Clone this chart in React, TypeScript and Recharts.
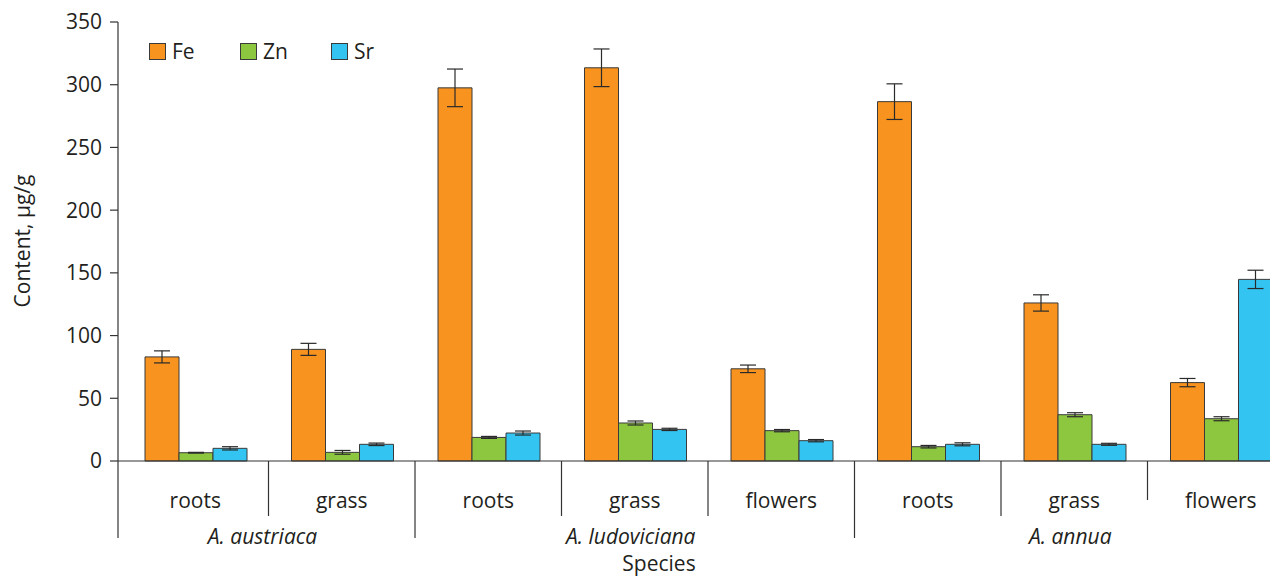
import React from 'react';
import { BarChart, Bar, XAxis, YAxis, ErrorBar } from 'recharts';

// plant part for each group on the x axis
const parts = ['roots', 'grass', 'roots', 'grass', 'flowers', 'roots', 'grass', 'flowers'];
// species name and which groups belong to it
const species = ['A. austriaca', 'A. ludoviciana', 'A. annua'];
const speciesOf = [0, 0, 1, 1, 1, 2, 2, 2];

const fe = [83, 89, 297.5, 313.5, 73.5, 286.5, 126, 62.5];
const feErr = [4.8, 4.8, 15, 15, 3, 14.2, 6.5, 3.3];
const zn = [6.6, 6.9, 18.8, 30.3, 24.2, 11.4, 36.9, 33.7];
const znErr = [0.3, 1.5, 0.8, 1.6, 0.9, 1, 1.6, 1.6];
const sr = [10.1, 13.3, 22.3, 25.2, 16.2, 13.3, 13.3, 144.8];
const srErr = [1.3, 1, 1.6, 0.9, 0.9, 1.2, 0.8, 7.3];

const yTicks = [0, 50, 100, 150, 200, 250, 300, 350];

const series = [
  { key: 'fe', name: 'Fe', color: '#F7931E' },
  { key: 'zn', name: 'Zn', color: '#8DC63F' },
  { key: 'sr', name: 'Sr', color: '#33C4F2' },
];

const data = parts.map((p, i) => ({
  part: p,
  fe: fe[i],
  feErr: feErr[i],
  zn: zn[i],
  znErr: znErr[i],
  sr: sr[i],
  srErr: srErr[i],
}));

const FONT = "'Open Sans', sans-serif";
const TEXT = '#231F20';
const LINE = '#333333';
const AXIS_X = 118;
const AXIS_Y = 461;
const BAND = 146.5;

const PartTick = (props: any) => {
  const { x, payload, index } = props;
  const sp = speciesOf[index];
  const first = speciesOf.indexOf(sp) === index;
  const left = index === 0 ? AXIS_X : x - BAND / 2;
  let label = null;
  if (first) {
    const count = speciesOf.filter((s) => s === sp).length;
    const right = x - BAND / 2 + count * BAND;
    label = (
      <text
        x={(left + right) / 2 - 4}
        y={544}
        textAnchor="middle"
        fill={TEXT}
        fontSize={21}
        fontStyle="italic"
        fontFamily={FONT}
      >
        {species[sp]}
      </text>
    );
  }
  const bottom = first ? 538 : index === parts.length - 1 ? 500 : 516;
  return (
    <g>
      <line x1={left} x2={left} y1={AXIS_Y} y2={bottom} stroke={LINE} strokeWidth={1.2} />
      <text x={x} y={508} textAnchor="middle" fill={TEXT} fontSize={21} fontFamily={FONT}>
        {payload.value}
      </text>
      {label}
    </g>
  );
};

export default function App() {
  return (
    <div
      style={{
        position: 'absolute',
        left: 0,
        top: 0,
        width: 1270,
        height: 576,
        overflow: 'hidden',
        background: '#fff',
      }}
    >
      <BarChart
        width={1300}
        height={576}
        data={data}
        margin={{ top: 22, right: 6, bottom: 0, left: 0 }}
        barCategoryGap={23}
        barGap={0}
      >
        <XAxis
          dataKey="part"
          height={115}
          padding={{ left: 4, right: 0 }}
          tickLine={false}
          axisLine={{ stroke: LINE, strokeWidth: 1.2 }}
          tick={<PartTick />}
          interval={0}
        />
        <YAxis
          width={118}
          domain={[0, 350]}
          ticks={yTicks}
          tickSize={8}
          tickMargin={8}
          axisLine={{ stroke: LINE, strokeWidth: 1.2 }}
          tickLine={{ stroke: LINE, strokeWidth: 1.2 }}
          tick={{ fill: TEXT, fontSize: 21, fontFamily: FONT }}
          label={() => (
            <text
              x={22}
              y={241}
              transform="rotate(-90 22 241)"
              textAnchor="middle"
              dominantBaseline="central"
              fill={TEXT}
              fontSize={21}
              fontFamily={FONT}
            >
              Content, µg/g
            </text>
          )}
        />
        {series.map((s) => (
          <Bar
            key={s.key}
            dataKey={s.key}
            name={s.name}
            fill={s.color}
            stroke="#3a3a3a"
            strokeWidth={1}
            isAnimationActive={false}
          >
            <ErrorBar dataKey={s.key + 'Err'} width={8} stroke="#2a2a2a" strokeWidth={1.2} />
          </Bar>
        ))}
      </BarChart>
      <div
        style={{
          position: 'absolute',
          left: 149,
          top: 36,
          display: 'flex',
          fontFamily: FONT,
          fontSize: 21,
          color: TEXT,
        }}
      >
        {series.map((s) => (
          <div key={s.key} style={{ display: 'flex', alignItems: 'center', width: 91, height: 30 }}>
            <span
              style={{
                display: 'inline-block',
                width: 15,
                height: 15,
                background: s.color,
                border: '1px solid #3a3a3a',
                marginRight: 6,
              }}
            />
            <span>{s.name}</span>
          </div>
        ))}
      </div>
      <div
        style={{
          position: 'absolute',
          left: 0,
          width: 1272,
          top: 549,
          textAlign: 'center',
          paddingLeft: 46,
          boxSizing: 'border-box',
          fontFamily: FONT,
          fontSize: 21,
          color: TEXT,
          lineHeight: '28px',
        }}
      >
        Species
      </div>
    </div>
  );
}
